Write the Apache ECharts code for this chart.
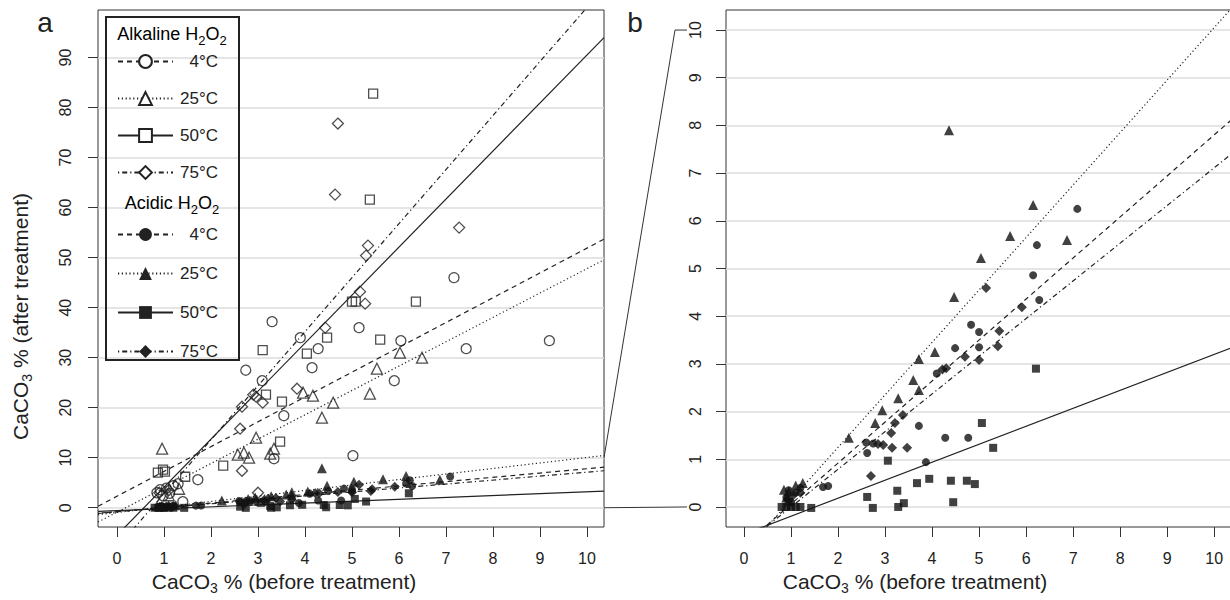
<!DOCTYPE html>
<html><head><meta charset="utf-8">
<script src="https://cdn.jsdelivr.net/npm/echarts@6/dist/echarts.min.js"></script>
<style>html,body{margin:0;padding:0;background:#fff}#c{width:1230px;height:600px}</style>
</head><body><div id="c"></div><script>
// ---------- data ----------
const xTicks = [0,1,2,3,4,5,6,7,8,9,10];
const yTicksA = [0,10,20,30,40,50,60,70,80,90];
const yTicksB = [0,1,2,3,4,5,6,7,8,9,10];
const tempLabels = ['4°C','25°C','50°C','75°C'];

// Alkaline H2O2 (open symbols), [CaCO3 before, CaCO3 after]
const alk4 = [[0.85,3.0],[0.92,3.6],[0.98,2.4],[1.05,3.9],[1.12,2.9],[1.2,4.4],[1.3,4.8],[1.4,1.2],[1.72,5.6],[3.34,9.8],[5.02,10.4],[3.55,18.4],[3.09,25.4],[2.74,27.5],[4.15,28],[4.28,31.8],[3.9,34],[3.3,37.2],[5.15,36],[6.04,33.4],[5.9,25.4],[7.43,31.8],[7.17,46],[9.2,33.4]];
const alk25 = [[0.96,11.8],[1.32,3.8],[1.1,2.5],[2.57,10.6],[2.7,11],[2.81,10],[3.26,10.8],[3.34,11.8],[2.96,14],[4.36,18],[4.6,21],[4.17,22.4],[3.96,23],[5.38,22.8],[5.53,27.8],[6.02,31],[6.49,30]];
const alk50 = [[0.87,7],[0.98,7.6],[1.02,7.2],[1.45,6.2],[2.26,8.4],[3.47,13.2],[3.51,21.2],[3.17,22.6],[4.04,30.8],[4.47,34],[5.6,33.6],[5.0,41.2],[5.08,41.2],[6.36,41.2],[5.38,61.6],[5.45,82.8],[3.1,31.5]];
const alk75 = [[0.9,3],[1.1,3.5],[2.62,15.8],[2.66,7.4],[2.66,20.2],[3.0,3.0],[2.9,22.6],[2.96,22.2],[3.1,21],[3.83,23.8],[4.43,36],[5.17,43.2],[5.28,40.8],[5.3,50.4],[5.34,52.4],[4.64,62.6],[4.70,76.8],[7.28,56]];

// Acidic H2O2 (filled symbols)
const acid4 = [[7.09,6.25],[6.23,5.49],[6.15,4.86],[6.28,4.34],[4.83,3.82],[5.0,3.67],[4.49,3.33],[5.0,3.35],[4.1,2.8],[3.72,1.7],[4.28,1.45],[4.77,1.45],[2.62,1.13],[2.6,1.35],[2.75,1.33],[3.87,0.94],[1.68,0.42],[1.79,0.44],[0.9,0.2],[1.0,0.1],[1.1,0.3],[1.2,0.4],[0.95,0.35]];
const acid25 = [[4.36,7.9],[6.15,6.33],[6.87,5.6],[5.66,5.68],[5.04,5.22],[4.47,4.4],[4.06,3.25],[3.72,3.1],[3.6,2.66],[3.72,2.45],[3.28,2.28],[2.94,2.03],[2.79,1.76],[2.23,1.45],[0.85,0.36],[0.95,0.33],[1.1,0.45],[1.25,0.5],[0.9,0.2]];
const acid50 = [[6.21,2.9],[5.06,1.76],[5.3,1.24],[3.06,0.97],[3.94,0.59],[4.4,0.55],[4.74,0.55],[4.91,0.48],[3.68,0.5],[3.26,0.34],[2.62,0.21],[4.45,0.1],[3.4,0.08],[3.28,0.0],[2.74,-0.02],[1.43,-0.02],[0.8,0],[0.9,0],[1.0,0],[1.1,0],[1.2,0],[0.95,0.1]];
const acid75 = [[5.15,4.59],[5.91,4.19],[5.43,3.69],[5.4,3.37],[5.0,3.08],[4.7,3.15],[4.3,2.91],[4.22,2.88],[3.38,1.93],[3.21,1.76],[3.13,1.55],[3.15,1.24],[3.47,1.24],[2.96,1.3],[2.85,1.32],[2.7,0.65],[1.2,0.3],[1.05,0.25],[0.95,0.15]];

// linear fits: intercept, slope (order: 4, 25, 50, 75 °C)
const alkIntercepts = [2.3, -0.9, -5.5, -8.0];
const alkSlopes = [4.96, 4.87, 9.6, 10.8];
const acidIntercepts = [-0.8, -0.95, -0.57, -0.79];
const acidSlopes = [0.86, 1.1, 0.377, 0.79];

// ---------- styling ----------
const FONT = 'Liberation Sans, Arial, Helvetica, sans-serif';
const INK = '#222';
const dashTypes = [[5,4],[1.2,2.6],'solid',[1.2,3,5,3]];
const openSymbols = ['emptyCircle','emptyTriangle','emptyRect','emptyDiamond'];
const fillSymbols = ['circle','triangle','rect','diamond'];
const scatterShapes = ['circle','triangle','rect','diamond'];
const openSizes = [10,11,9,11];
const fillSizes = [8,10,8,10];

const A = {xmin:-0.404, xmax:10.362, ymin:-3.85, ymax:99.5};
const B = {xmin:-0.383, xmax:10.38, ymin:-0.42, ymax:10.42};

const chart = echarts.init(document.getElementById('c'), null, {renderer:'svg'});

function titleStyle(pad){
  return {fontSize:21, color:INK, fontFamily:FONT, padding:pad,
    rich:{s:{fontSize:14, color:INK, fontFamily:FONT, padding:[14,0,0,0]}}};
}
function xAxisFor(grid, r, shiftPad){
  return {type:'value', gridIndex:grid, min:r.xmin, max:r.xmax,
    axisLine:{show:false, onZero:false},
    axisTick:{show:true, length:10, customValues:xTicks, lineStyle:{color:'#333', width:1}},
    axisLabel:{customValues:xTicks, fontSize:16, color:INK, fontFamily:FONT, margin:23},
    splitLine:{show:false},
    name:'CaCO{s|3} % (before treatment)', nameLocation:'middle', nameGap:39,
    nameTextStyle:titleStyle([0, shiftPad, 0, 0])
  };
}
function yAxisFor(grid, r, ticks, withName, margin){
  const ax = {type:'value', gridIndex:grid, min:r.ymin, max:r.ymax,
    axisLine:{show:false, onZero:false},
    axisTick:{show:true, length:10, customValues:ticks, lineStyle:{color:'#333', width:1}},
    axisLabel:{customValues:ticks, rotate:90, fontSize:16, color:INK, fontFamily:FONT, margin:margin},
    splitLine:{show:true, lineStyle:{color:'#dcdcdc', width:1.5}}
  };
  if (withName){
    Object.assign(ax, {name:'CaCO{s|3} % (after treatment)', nameLocation:'middle', nameRotate:90, nameGap:64,
      nameTextStyle:titleStyle([0, 96, 0, 0])});
  }
  return ax;
}

function fitLine(name, grid, r, a, b, i){
  return {type:'line', name:name, xAxisIndex:grid, yAxisIndex:grid,
    data:[[r.xmin, a + b*r.xmin],[r.xmax, a + b*r.xmax]],
    symbol: (name.indexOf('Alkaline')===0 ? openSymbols : fillSymbols)[i], showSymbol:false,
    clip:true, z:2, silent:true,
    itemStyle:{color:INK},
    lineStyle:{color:INK, width:1.2, type:dashTypes[i]}};
}
function pts(name, grid, data, i, open){
  return {type:'scatter', name:name, xAxisIndex:grid, yAxisIndex:grid, data:data,
    symbol:scatterShapes[i], symbolSize:(open?openSizes:fillSizes)[i], z:3, clip:true,
    itemStyle: open ? {color:'rgba(0,0,0,0)', borderColor:'#222', borderWidth:1.3}
                    : {color:'#111', borderWidth:0}};
}

const alkNames = tempLabels.map(t => 'Alkaline ' + t);
const acidNames = tempLabels.map(t => 'Acidic ' + t);
const alkData = [alk4, alk25, alk50, alk75];
const acidData = [acid4, acid25, acid50, acid75];

const series = [];
for (let i=0;i<4;i++) series.push(fitLine(alkNames[i], 0, A, alkIntercepts[i], alkSlopes[i], i));
for (let i=0;i<4;i++) series.push(fitLine(acidNames[i], 0, A, acidIntercepts[i], acidSlopes[i], i));
for (let i=0;i<4;i++) series.push(fitLine(acidNames[i], 1, B, acidIntercepts[i], acidSlopes[i], i));
for (let i=0;i<4;i++) series.push(pts(alkNames[i], 0, alkData[i], i, true));
for (let i=0;i<4;i++) series.push(pts(acidNames[i], 0, acidData[i], i, false));
for (let i=0;i<4;i++) series.push(pts(acidNames[i], 1, acidData[i], i, false));

const legendCommon = {orient:'vertical', left:117, padding:0, itemWidth:55, itemHeight:16,
  selectedMode:false,
  textStyle:{fontSize:17, color:INK, fontFamily:FONT, lineHeight:16,
    rich:{t:{width:40, align:'right', fontSize:17, color:INK, fontFamily:FONT, lineHeight:16}}},
  formatter: n => '{t|' + n.split(' ')[1] + '}'};

const sub = {a:{fontSize:18, color:INK, fontFamily:FONT}, s:{fontSize:13, color:INK, fontFamily:FONT, padding:[13,0,0,0]}};

chart.setOption({
  animation:false,
  backgroundColor:'#fff',
  grid:[
    {left:98, top:10, width:506, height:517, show:true, borderColor:'#333', borderWidth:1, backgroundColor:'rgba(0,0,0,0)', containLabel:false, outerBoundsMode:'none'},
    {left:726, top:10, width:506, height:517, show:true, borderColor:'#333', borderWidth:1, backgroundColor:'rgba(0,0,0,0)', containLabel:false, outerBoundsMode:'none'}
  ],
  xAxis:[xAxisFor(0,A,134), xAxisFor(1,B,128)],
  yAxis:[yAxisFor(0,A,yTicksA,true,25), yAxisFor(1,B,yTicksB,false,23)],
  legend:[
    Object.assign({}, legendCommon, {top:53, itemGap:20, data:alkNames}),
    Object.assign({}, legendCommon, {top:226, itemGap:22, data:acidNames})
  ],
  series:series
});

// decorations: legend frame, headers, panel letters, zoom connectors
const pA10 = chart.convertToPixel({gridIndex:0}, [A.xmax, 10]);
const pA0 = chart.convertToPixel({gridIndex:0}, [A.xmax, 0]);
const pB10 = chart.convertToPixel({gridIndex:1}, [B.xmin, 10]);
const pB0 = chart.convertToPixel({gridIndex:1}, [B.xmin, 0]);

chart.setOption({
  graphic:[
    {type:'rect', shape:{x:106, y:17, width:133, height:343}, style:{fill:'none', stroke:INK, lineWidth:2}, z:10},
    {type:'text', x:172, y:34, style:{text:'{a|Alkaline H}{s|2}{a|O}{s|2}', rich:sub, align:'center', verticalAlign:'middle'}, z:10},
    {type:'text', x:172, y:203, style:{text:'{a|Acidic H}{s|2}{a|O}{s|2}', rich:sub, align:'center', verticalAlign:'middle'}, z:10},
    {type:'text', x:45, y:22, style:{text:'a', fontSize:28, fill:INK, fontFamily:FONT, align:'center', verticalAlign:'middle'}},
    {type:'text', x:635, y:22, style:{text:'b', fontSize:28, fill:INK, fontFamily:FONT, align:'center', verticalAlign:'middle'}},
    {type:'polyline', shape:{points:[[pA10[0], pA10[1]],[pB10[0]-51, pB10[1]],[pB10[0]-39, pB10[1]]]}, style:{stroke:'#333', lineWidth:1, fill:'none'}},
    {type:'line', shape:{x1:pA0[0], y1:pA0[1], x2:pB0[0]-39, y2:pB0[1]}, style:{stroke:'#333', lineWidth:1}}
  ]
});
</script></body></html>
